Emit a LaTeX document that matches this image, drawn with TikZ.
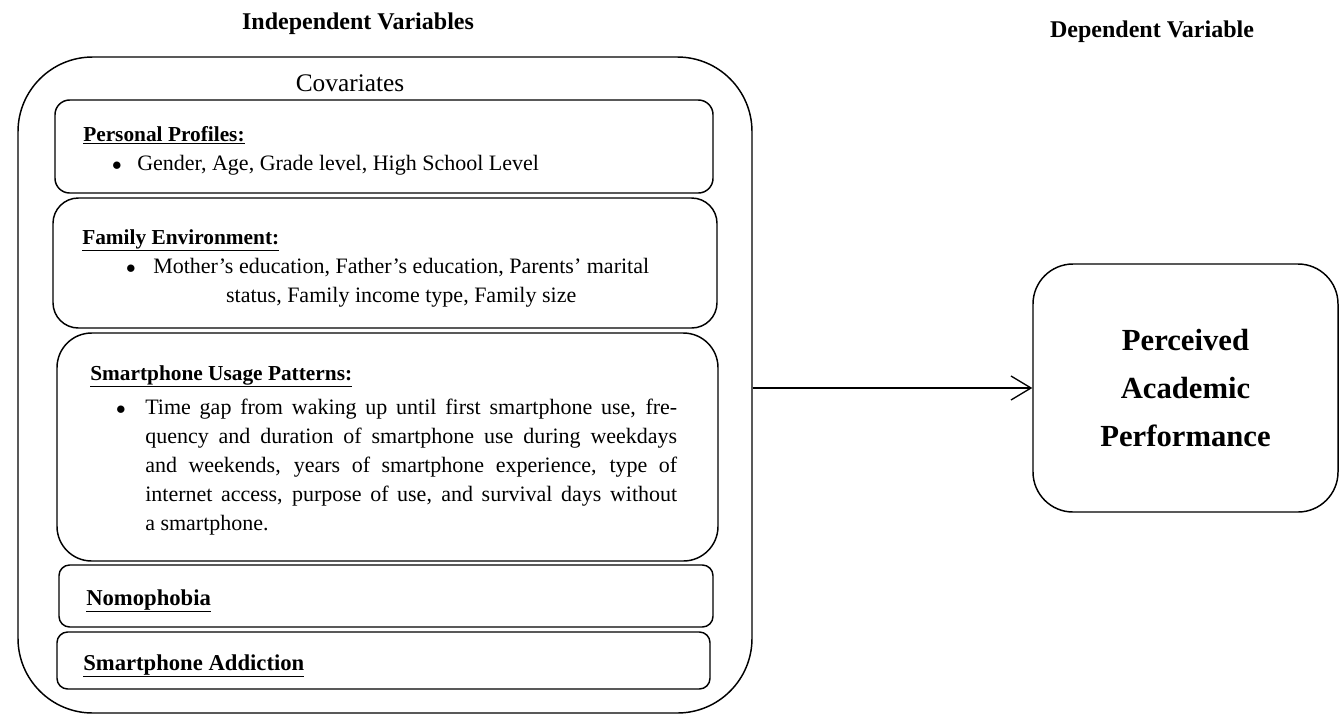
\documentclass[tikz,border=0pt]{standalone}
\usepackage{fontspec}
\setmainfont{Liberation Serif}
\usetikzlibrary{arrows.meta}

\begin{document}
\begin{tikzpicture}[x=0.75pt, y=-0.75pt,
  varbox/.style={draw, line width=1.1pt, rounded corners=#1, inner sep=0pt},
  body/.style={font=\fontsize{16.5}{21.75}\selectfont, inner sep=0pt, anchor=base west},
  dot/.style={font=\fontsize{15}{18}\selectfont, inner sep=0pt, anchor=base},
  head/.style={font=\fontsize{16}{18}\selectfont\bfseries, inner sep=0pt, anchor=base west},
  title/.style={font=\fontsize{18}{20}\selectfont\bfseries}]
  \useasboundingbox (0,0) rectangle (1342,715);

  % headings
  \node[title] (ivtitle) at (358,24) {Independent Variables};
  \node[title] (dvtitle) at (1152,32) {Dependent Variable};

  % outer box with the covariates
  \node[varbox=56pt, minimum width=550.5pt, minimum height=492pt] (iv) at (385,385) {};
  \node[font=\fontsize{19}{20}\selectfont] (cov) at (350,83) {Covariates};

  \node[varbox=11pt, minimum width=493.5pt, minimum height=69.75pt] (pp) at (384,146.5) {};
  \node[varbox=19pt, minimum width=498pt, minimum height=97.5pt] (fe) at (385,263) {};
  \node[varbox=26pt, minimum width=495.75pt, minimum height=171pt] (up) at (387.5,447) {};
  \node[varbox=8pt, minimum width=490.5pt, minimum height=46.5pt] (nomo) at (386,596) {};
  \node[varbox=8pt, minimum width=489.75pt, minimum height=42.75pt] (sa) at (383.5,660.5) {};

  % personal profiles
  \node[head] (pphead) at (83,141) {\underline{Personal Profiles:}};
  \node[dot] (ppdot) at (117,170) {$\bullet$};
  \node[body] (pptext) at (137,170) {Gender, Age, Grade level, High School Level};

  % family environment
  \node[head] (fehead) at (82,244) {\underline{Family Environment:}};
  \node[dot] (fedot) at (131,273) {$\bullet$};
  \node[body] (fetext) at (153,273) {\begin{tabular}[t]{@{}c@{}}
    Mother’s education, Father’s education, Parents’ marital\\
    status, Family income type, Family size\end{tabular}};

  % usage patterns
  \node[head] (uphead) at (90,380) {\underline{Smartphone Usage Patterns:}};
  \node[dot] (updot) at (121,414) {$\bullet$};
  \node[body] (uptext) at (145,414) {\parbox[t]{399pt}{%
    Time gap from waking up until first smartphone use, fre-\linebreak
    quency and duration of smartphone use during weekdays\linebreak
    and weekends, years of smartphone experience, type of\linebreak
    internet access, purpose of use, and survival days without\linebreak
    a smartphone.}};

  \node[head, font=\fontsize{17}{18}\selectfont\bfseries] (nomohead) at (86,605) {\underline{Nomophobia}};
  \node[head, font=\fontsize{17}{18}\selectfont\bfseries] (sahead) at (83,670) {\underline{Smartphone Addiction}};

  % dependent variable
  \node[varbox=30pt, minimum width=228.75pt, minimum height=186pt, align=center,
    font=\fontsize{23}{36}\selectfont\bfseries] (dv) at (1185.5,388)
    {Perceived\\ Academic\\ Performance};

  \draw[-{Straight Barb[length=15pt,width=18pt]}, line width=1pt] (dv.west -| iv.east) -- (dv.west);
\end{tikzpicture}
\end{document}
